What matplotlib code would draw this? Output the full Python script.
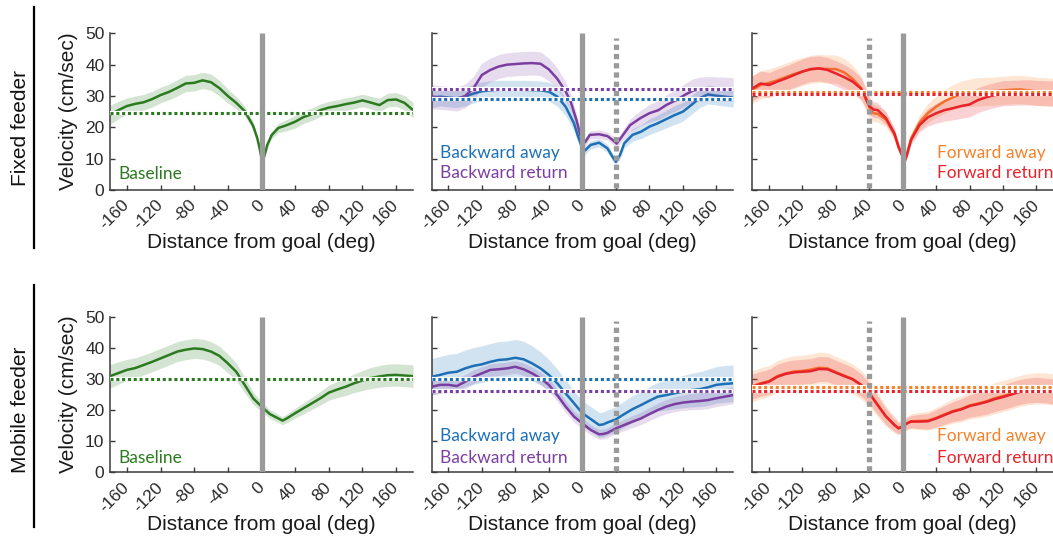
import matplotlib
matplotlib.use("Agg")
import matplotlib.pyplot as plt
import numpy as np

# ---------------- data ----------------
DEG_TICKS = [-160, -120, -80, -40, 0, 40, 80, 120, 160]
VEL_TICKS = [0, 10, 20, 30, 40, 50]
ROW_LABELS = ["Fixed feeder", "Mobile feeder"]

# Fixed feeder – baseline
fb_x = [-180,-170,-160,-150,-140,-130,-120,-110,-100,-90,-80,-70,-60,-50,-40,-30,-20,-10,-5,-2,1,4,7,12,20,30,40,50,60,70,80,90,100,110,120,130,140,150,160,170,180]
fb_y = [24.0,25.5,26.8,27.5,28.0,29.0,30.3,31.3,32.6,34.0,34.2,35.0,34.4,32.5,30.0,27.8,25.2,20.5,16.5,13.0,8.8,11.5,14.5,17.5,19.8,20.7,21.8,23.3,24.2,25.5,26.3,26.8,27.4,27.9,28.6,27.9,27.1,28.7,28.9,27.8,25.5]
fb_e = [3.0,2.8,2.6,2.5,2.5,2.5,2.5,2.5,2.6,2.6,2.6,2.6,2.6,2.5,2.2,2.0,1.6,1.3,1.0,0.8,0.7,0.8,1.0,1.2,1.5,1.8,2.0,2.0,2.0,2.0,2.0,2.0,2.0,2.0,2.0,2.0,2.2,2.2,2.2,2.3,2.5]
fb_mean = 24.6

# Mobile feeder – baseline
mb_x = [-180,-170,-160,-150,-140,-130,-120,-110,-100,-90,-80,-70,-60,-50,-40,-30,-20,-10,0,10,20,25,30,40,50,60,70,80,90,100,110,120,130,140,150,160,170,180]
mb_y = [30.9,31.9,32.9,33.5,34.5,35.5,36.6,37.7,38.8,39.4,39.8,39.6,38.8,37.4,35.0,32.3,28.1,23.8,21.1,18.7,17.3,16.6,17.3,19.0,20.6,22.2,23.8,25.6,26.6,27.5,28.6,29.5,30.3,30.8,31.2,31.3,31.1,30.9]
mb_e = [3.8,3.6,3.4,3.3,3.2,3.2,3.2,3.2,3.2,3.2,3.2,3.2,3.2,3.1,3.0,2.8,2.5,2.0,1.6,1.4,1.3,1.3,1.4,1.6,1.8,2.0,2.2,2.4,2.6,2.8,3.0,3.2,3.4,3.5,3.6,3.6,3.6,3.6]
mb_mean = 30.1

# Fixed feeder – backward away / return
bfa_x = [-180,-170,-160,-150,-140,-130,-120,-110,-100,-90,-80,-70,-60,-50,-40,-30,-20,-10,-5,0,3,10,20,30,36,40,45,50,60,70,80,90,100,110,120,130,140,150,160,170,180]
bfa_y = [29.3,29.8,29.5,29.3,29.8,30.8,31.5,31.8,32.0,32.0,32.0,32.0,31.9,31.8,31.4,29.8,26.6,21.3,17.0,13.3,12.6,14.4,15.1,13.3,10.6,9.0,11.2,14.9,17.6,18.6,20.2,21.3,22.6,23.9,25.0,27.1,29.3,30.5,30.1,29.8,29.5]
bfa_e = [3.0,3.0,3.0,3.0,3.0,3.0,3.0,3.0,3.0,3.0,3.0,3.0,3.0,3.0,3.0,3.0,2.8,2.5,2.0,1.5,1.3,1.3,1.3,1.3,1.2,1.0,1.2,1.5,2.0,2.2,2.5,2.6,2.8,3.0,3.0,3.0,3.0,3.0,3.0,3.0,3.0]
bfa_mean = 28.9

bfr_x = [-180,-170,-160,-150,-140,-130,-120,-110,-100,-90,-80,-70,-60,-50,-40,-30,-20,-14,-7,-1,3,9,20,30,36,41,47,57,69,80,91,100,112,124,132,140,150,160,170,180]
bfr_y = [29.8,29.5,29.3,29.0,30.0,32.5,36.7,38.3,39.4,40.0,40.2,40.4,40.5,40.3,38.5,35.5,31.5,28.2,22.3,16.0,15.2,17.6,17.8,17.2,16.0,14.8,17.0,20.7,22.9,24.5,25.5,27.1,28.7,30.6,31.7,32.2,32.4,32.3,32.2,32.1]
bfr_e = [3.8,3.8,3.8,3.8,3.8,3.8,3.8,3.8,3.8,3.8,3.8,3.8,3.8,3.8,3.6,3.4,3.0,2.6,2.0,1.5,1.3,1.3,1.3,1.3,1.3,1.3,1.5,2.0,2.4,2.8,3.0,3.2,3.4,3.6,3.8,3.8,3.8,3.8,3.8,3.8]
bfr_mean = 32.3

# Mobile feeder – backward away / return
bm_x = [-180,-170,-160,-150,-140,-130,-120,-110,-100,-90,-80,-70,-60,-50,-40,-30,-20,-10,0,10,20,25,30,40,50,60,70,80,90,100,110,120,130,140,150,160,170,180]
bma_y = [30.7,31.3,32.0,32.3,33.4,34.2,34.7,35.5,36.1,36.3,36.8,36.3,35.0,33.4,31.3,28.6,25.4,22.2,19.0,17.1,15.2,15.4,16.0,17.0,18.7,20.3,21.6,23.0,24.3,24.8,25.4,25.9,26.4,26.7,27.3,28.1,28.4,28.6]
bma_e = [5.9,5.9,5.9,5.9,5.9,5.9,5.9,5.9,5.9,5.9,5.9,5.8,5.6,5.3,5.0,4.6,4.3,4.0,4.0,4.0,4.0,4.0,4.0,4.1,4.2,4.3,4.4,4.5,4.6,4.8,5.0,5.2,5.4,5.6,5.8,5.9,5.9,5.9]
bmr_y = [27.5,28.1,28.1,27.7,29.1,30.7,31.8,32.9,33.1,33.4,33.9,33.1,31.8,30.2,28.1,24.8,21.1,17.9,15.7,13.6,12.2,12.3,12.7,14.1,15.2,16.3,17.3,18.7,20.0,21.1,21.9,22.4,22.7,22.9,23.2,23.8,24.3,24.8]
bmr_e = [2.7,2.6,2.5,2.4,2.3,2.2,2.1,2.0,2.0,2.0,2.0,2.0,2.0,2.0,2.0,2.0,1.9,1.8,1.7,1.6,1.6,1.6,1.6,1.7,1.8,1.9,2.0,2.1,2.2,2.3,2.4,2.5,2.6,2.7,2.7,2.7,2.7,2.7]
bma_mean = 29.9
bmr_mean = 26.1

# Fixed feeder – forward away / return
ff_x = [-180,-170,-160,-150,-140,-130,-120,-110,-100,-90,-80,-70,-60,-50,-45,-40,-35,-30,-20,-10,-5,0,2,5,10,20,30,40,50,60,70,80,90,100,110,120,130,140,150,160,170,180]
ffa_y = [32.0,33.5,34.2,35.0,36.0,37.0,37.8,38.5,38.8,38.6,38.6,37.5,35.5,32.6,29.5,26.5,24.5,24.3,22.5,17.8,13.6,10.6,9.2,11.5,16.5,21.5,24.5,26.6,28.3,29.6,30.6,31.0,31.3,31.5,31.6,31.8,32.0,32.1,31.8,31.5,31.3,31.2]
ffa_e = [4.5,4.5,4.5,4.5,4.5,4.5,4.5,4.5,4.5,4.5,4.5,4.5,4.3,4.0,3.6,3.2,2.8,2.6,2.3,1.8,1.4,1.2,1.1,1.2,1.6,2.4,3.0,3.4,3.8,4.0,4.2,4.4,4.5,4.5,4.5,4.5,4.5,4.5,4.5,4.5,4.5,4.5]
ffr_y = [32.4,34.0,33.5,34.6,35.6,36.7,37.8,38.6,38.8,38.3,37.2,36.0,34.6,32.4,29.8,26.8,25.7,25.5,22.9,18.1,13.8,10.6,9.0,11.2,16.0,20.7,23.2,24.5,25.5,26.1,26.8,27.3,28.7,29.6,30.3,30.9,31.0,31.1,31.2,31.0,30.9,30.8]
ffr_e = [4.0,4.0,4.0,4.0,4.0,4.0,4.0,4.0,4.0,4.0,4.0,4.0,3.8,3.5,3.2,2.8,2.5,2.4,2.1,1.6,1.2,1.0,0.9,1.0,1.4,2.2,2.8,3.2,3.5,3.7,3.9,4.0,4.0,4.0,4.0,4.0,4.0,4.0,4.0,4.0,4.0,4.0]
ffa_mean = 31.4
ffr_mean = 30.7

# Mobile feeder – forward away / return
fm_x = [-180,-170,-160,-150,-140,-130,-120,-110,-100,-90,-80,-70,-60,-50,-40,-30,-20,-10,-5,0,5,10,20,30,40,50,60,70,80,90,100,110,120,130,140,150,160,170,180]
fma_y = [27.7,28.6,29.3,30.9,31.8,32.4,32.6,33.0,33.6,33.4,32.2,31.1,30.0,28.2,25.5,21.7,18.0,15.3,14.2,14.8,15.8,16.4,16.5,16.6,17.5,18.6,19.7,20.4,21.5,22.1,22.8,23.8,24.5,25.3,26.1,26.7,27.0,26.9,26.7]
fma_e = [5.0,5.0,5.0,5.0,5.0,5.0,5.0,5.0,5.0,5.0,5.0,5.0,4.8,4.6,4.3,3.8,3.2,2.6,2.2,2.0,2.2,2.4,2.8,3.0,3.3,3.6,3.9,4.2,4.4,4.6,4.8,5.0,5.0,5.0,5.0,5.0,5.0,5.0,5.0]
fmr_y = [27.5,28.4,29.1,30.7,31.6,32.1,32.3,32.5,33.2,33.1,32.0,30.9,29.9,28.1,25.4,21.6,17.9,15.2,14.1,14.7,15.7,16.3,16.3,16.4,17.3,18.4,19.5,20.2,21.3,21.9,22.6,23.5,24.2,25.0,25.8,26.3,26.5,26.3,26.0]
fmr_e = [4.0,4.0,4.0,4.0,4.0,4.0,4.0,4.0,4.0,4.0,4.0,4.0,3.8,3.6,3.4,3.0,2.6,2.1,1.8,1.6,1.8,2.0,2.3,2.5,2.8,3.0,3.2,3.4,3.6,3.8,4.0,4.0,4.0,4.0,4.0,4.0,4.0,4.0,4.0]
fma_mean = 27.5
fmr_mean = 26.2

GOAL = 0
BACK_SHIFT = 40
FWD_SHIFT = -40

# ---------------- style ----------------
GREEN = "#2b7a1f"
BLUE = "#1d70b5"
PURPLE = "#7a3ea0"
ORANGE = "#f5822a"
RED = "#e8222b"
GRAY = "#9a9a9a"
AXC = "#3a3a3a"

plt.rcParams["font.family"] = ["Liberation Sans", "DejaVu Sans"]

fig = plt.figure(figsize=(10.53, 5.40), dpi=100)

lefts = [0.1045, 0.4099, 0.7144]
widths = [0.2877, 0.2863, 0.2858]
bottoms = [0.6481, 0.1254]
heights = [0.2902, 0.2881]

LEG_FONT = "Lato"


def setup(ax, col, row):
    ax.set_xlim(-180, 180)
    ax.set_ylim(0, 50)
    for s in ("top", "right"):
        ax.spines[s].set_visible(False)
    for s in ("left", "bottom"):
        ax.spines[s].set_color(AXC)
        ax.spines[s].set_linewidth(1.1)
    ax.set_xticks(DEG_TICKS)
    ax.set_xticklabels([str(t) for t in DEG_TICKS], rotation=45, ha="right",
                       va="center", rotation_mode="anchor", fontsize=12.5, color="#2a2a2a")
    ax.set_yticks(VEL_TICKS)
    if col == 0:
        ax.set_yticklabels([str(t) for t in VEL_TICKS], fontsize=12.5, color="#2a2a2a")
        ax.set_ylabel("Velocity (cm/sec)", fontsize=15, color="#1a1a1a")
        ax.yaxis.set_label_coords(-0.138, 0.5)
        ax.yaxis.label.set_va("center")
    else:
        ax.set_yticklabels([])
    ax.tick_params(direction="in", length=3.5, width=1.0, color=AXC, pad=4)
    ax.tick_params(axis="x", pad=9)
    ax.set_xlabel("Distance from goal (deg)", fontsize=15, color="#1a1a1a")
    ax.xaxis.set_label_coords(0.5, -0.335)
    ax.xaxis.label.set_va("center")


def band(ax, x, y, e, color, alpha=0.2, lw=1.8, z=2):
    x = np.asarray(x); y = np.asarray(y); e = np.asarray(e)
    ax.fill_between(x, y - e, y + e, color=color, alpha=alpha, lw=0, zorder=z)
    ax.plot(x, y, color=color, lw=lw, zorder=z + 1)


def dotted(ax, y, color):
    ax.axhline(y, color="white", lw=3.0, zorder=6)
    ax.axhline(y, color=color, lw=2.2, linestyle=(0, (1.0, 0.9)), zorder=7,
               dash_capstyle="butt")


def goal_bar(ax, x):
    ax.plot([x, x], [0, 50], color=GRAY, lw=3.8, zorder=9, solid_capstyle="butt")


def shift_bar(ax, x):
    ax.plot([x, x], [0.5, 48.5], color=GRAY, lw=3.8, zorder=9,
            linestyle=(0, (1.0, 0.75)), dash_capstyle="butt")


def legend_text(ax, x, y, s, color):
    ax.text(x, y, s, transform=ax.transAxes, color=color, fontsize=12.5,
            family=LEG_FONT, ha="left", va="center", zorder=10)


axes = {}
for r in range(2):
    for c in range(3):
        ax = fig.add_axes([lefts[c], bottoms[r], widths[c], heights[r]])
        setup(ax, c, r)
        axes[(r, c)] = ax

leg_y = [(0.236, 0.108), (0.233, 0.092)]

# Baseline panels
ax = axes[(0, 0)]
band(ax, fb_x, fb_y, fb_e, GREEN, alpha=0.2)
dotted(ax, fb_mean, GREEN)
goal_bar(ax, GOAL)
legend_text(ax, 0.026, 0.10, "Baseline", GREEN)

ax = axes[(1, 0)]
band(ax, mb_x, mb_y, mb_e, GREEN, alpha=0.2)
dotted(ax, mb_mean, GREEN)
goal_bar(ax, GOAL)
legend_text(ax, 0.026, 0.092, "Baseline", GREEN)

# Backward panels
ax = axes[(0, 1)]
band(ax, bfa_x, bfa_y, bfa_e, BLUE, alpha=0.2)
band(ax, bfr_x, bfr_y, bfr_e, PURPLE, alpha=0.18, z=3)
dotted(ax, bfr_mean, PURPLE)
dotted(ax, bfa_mean, BLUE)
goal_bar(ax, GOAL)
shift_bar(ax, BACK_SHIFT)
legend_text(ax, 0.028, leg_y[0][0], "Backward away", BLUE)
legend_text(ax, 0.028, leg_y[0][1], "Backward return", PURPLE)

ax = axes[(1, 1)]
band(ax, bm_x, bma_y, bma_e, BLUE, alpha=0.2)
band(ax, bm_x, bmr_y, bmr_e, PURPLE, alpha=0.18, z=3)
dotted(ax, bma_mean, BLUE)
dotted(ax, bmr_mean, PURPLE)
goal_bar(ax, GOAL)
shift_bar(ax, BACK_SHIFT)
legend_text(ax, 0.028, leg_y[1][0], "Backward away", BLUE)
legend_text(ax, 0.028, leg_y[1][1], "Backward return", PURPLE)

# Forward panels
ax = axes[(0, 2)]
band(ax, ff_x, ffa_y, ffa_e, ORANGE, alpha=0.2)
band(ax, ff_x, ffr_y, ffr_e, RED, alpha=0.2, z=3)
dotted(ax, ffa_mean, ORANGE)
dotted(ax, ffr_mean, RED)
goal_bar(ax, GOAL)
shift_bar(ax, FWD_SHIFT)
legend_text(ax, 0.614, leg_y[0][0], "Forward away", ORANGE)
legend_text(ax, 0.614, leg_y[0][1], "Forward return", RED)

ax = axes[(1, 2)]
band(ax, fm_x, fma_y, fma_e, ORANGE, alpha=0.2)
band(ax, fm_x, fmr_y, fmr_e, RED, alpha=0.2, z=3)
dotted(ax, fma_mean, ORANGE)
dotted(ax, fmr_mean, RED)
goal_bar(ax, GOAL)
shift_bar(ax, FWD_SHIFT)
legend_text(ax, 0.614, leg_y[1][0], "Forward away", ORANGE)
legend_text(ax, 0.614, leg_y[1][1], "Forward return", RED)

# Row labels with vertical separators
row_y = [0.763, 0.241]
line_span = [(0.987, 0.541), (0.472, 0.024)]
for lab, yy, (y0, y1) in zip(ROW_LABELS, row_y, line_span):
    fig.text(0.019, yy, lab, rotation=90, ha="center", va="center",
             fontsize=15, color="#111111")
    fig.add_artist(plt.Line2D([0.0323, 0.0323], [y0, y1], color="black",
                              lw=1.6, transform=fig.transFigure))

fig.savefig("out.png", dpi=100)
